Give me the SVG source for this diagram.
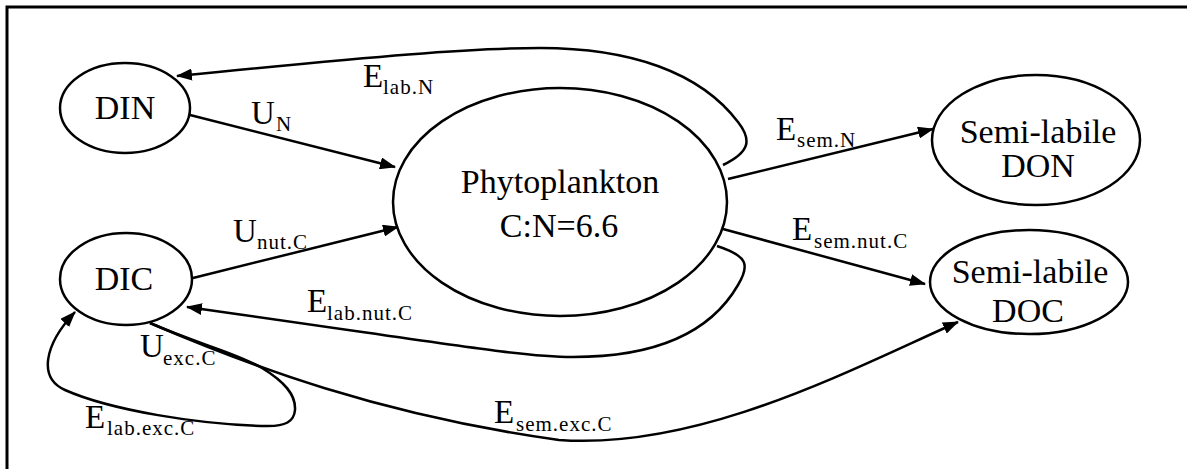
<svg xmlns="http://www.w3.org/2000/svg" width="1187" height="469" viewBox="0 0 1187 469">
<style>
  .node ellipse { fill: #fff; stroke: #000; stroke-width: 2.5; }
  .nt { font-family: "Liberation Serif", "Times New Roman", serif; font-size: 34px; fill: #000; text-anchor: middle; }
  .conn path { fill: none; stroke: #000; stroke-width: 2.5; }
  .lbl { font-family: "Liberation Serif", "Times New Roman", serif; font-size: 33px; fill: #000; }
  .sub { font-size: 21px; letter-spacing: 1px; }
  .frame { stroke: #000; stroke-width: 3; fill: none; }
</style>
<defs>
  <marker id="arr" markerUnits="userSpaceOnUse" markerWidth="16" markerHeight="12" refX="15" refY="6" orient="auto">
    <path d="M0,0 L16,6 L0,12 Z" fill="#000"/>
  </marker>
</defs>
<rect width="1187" height="469" fill="#fff"/>
<path class="frame" d="M7,469 L7,7 L1187,7"/>

<g id="conns" class="conn">
  <path id="c-UN" d="M190,115 L395,167" marker-end="url(#arr)"/>
  <path id="c-Unut" d="M193,278 L398,227" marker-end="url(#arr)"/>
  <path id="c-EsemN" d="M728,179 L933,129" marker-end="url(#arr)"/>
  <path id="c-Esemnut" d="M723,229 L925,284" marker-end="url(#arr)"/>
  <path id="c-ElabN" d="M723,165 C750,152 752,140 738,122 C700,72 630,48 540,48 C470,48 380,56 177,76" marker-end="url(#arr)"/>
  <path id="c-Elabnut" d="M717,246 C748,256 750,265 738,285 C712,330 660,357 573,357 C520,357 450,344 187,307" marker-end="url(#arr)"/>
  <path id="c-Esemexc" d="M150,323 C250,366 380,415 559,440 C700,450 850,370 958,322" marker-end="url(#arr)"/>
  <path id="c-Elabexc" d="M150,323 C200,345 235,352 262,368 C285,382 296,395 295,410 C294,422 285,426 268,426 C200,425 110,410 65,390 C38,378 44,345 75,312" marker-end="url(#arr)"/>
</g>

<g id="labels" class="lbl">
  <text><tspan x="251" y="124">U</tspan><tspan class="sub" x="276" y="131">N</tspan></text>
  <text><tspan x="363" y="87">E</tspan><tspan class="sub" x="383" y="94">lab.N</tspan></text>
  <text><tspan x="233" y="242">U</tspan><tspan class="sub" x="257" y="249">nut.C</tspan></text>
  <text><tspan x="776" y="140">E</tspan><tspan class="sub" x="797" y="147">sem.N</tspan></text>
  <text><tspan x="792" y="240">E</tspan><tspan class="sub" x="814" y="248">sem.nut.C</tspan></text>
  <text><tspan x="307" y="312">E</tspan><tspan class="sub" x="327" y="320">lab.nut.C</tspan></text>
  <text><tspan x="140" y="357">U</tspan><tspan class="sub" x="163" y="365">exc.C</tspan></text>
  <text><tspan x="494" y="423">E</tspan><tspan class="sub" x="516" y="431">sem.exc.C</tspan></text>
  <text><tspan x="85" y="428">E</tspan><tspan class="sub" x="107" y="435">lab.exc.C</tspan></text>
</g>

<g id="DIN" class="node">
  <ellipse cx="125" cy="108" rx="65" ry="45"/>
  <text class="nt" x="125" y="119">DIN</text>
</g>
<g id="DIC" class="node">
  <ellipse cx="126" cy="279" rx="66" ry="46"/>
  <text class="nt" x="124" y="290">DIC</text>
</g>
<g id="Phytoplankton" class="node">
  <ellipse cx="560" cy="202" rx="167" ry="114"/>
  <text class="nt" x="560" y="193">Phytoplankton</text>
  <text class="nt" x="559" y="237">C:N=6.6</text>
</g>
<g id="DON" class="node">
  <ellipse cx="1036" cy="140" rx="104" ry="65"/>
  <text class="nt" x="1038" y="143">Semi-labile</text>
  <text class="nt" x="1038" y="177">DON</text>
</g>
<g id="DOC" class="node">
  <ellipse cx="1029" cy="282" rx="99" ry="52"/>
  <text class="nt" x="1030" y="283">Semi-labile</text>
  <text class="nt" x="1028" y="322">DOC</text>
</g>
</svg>
